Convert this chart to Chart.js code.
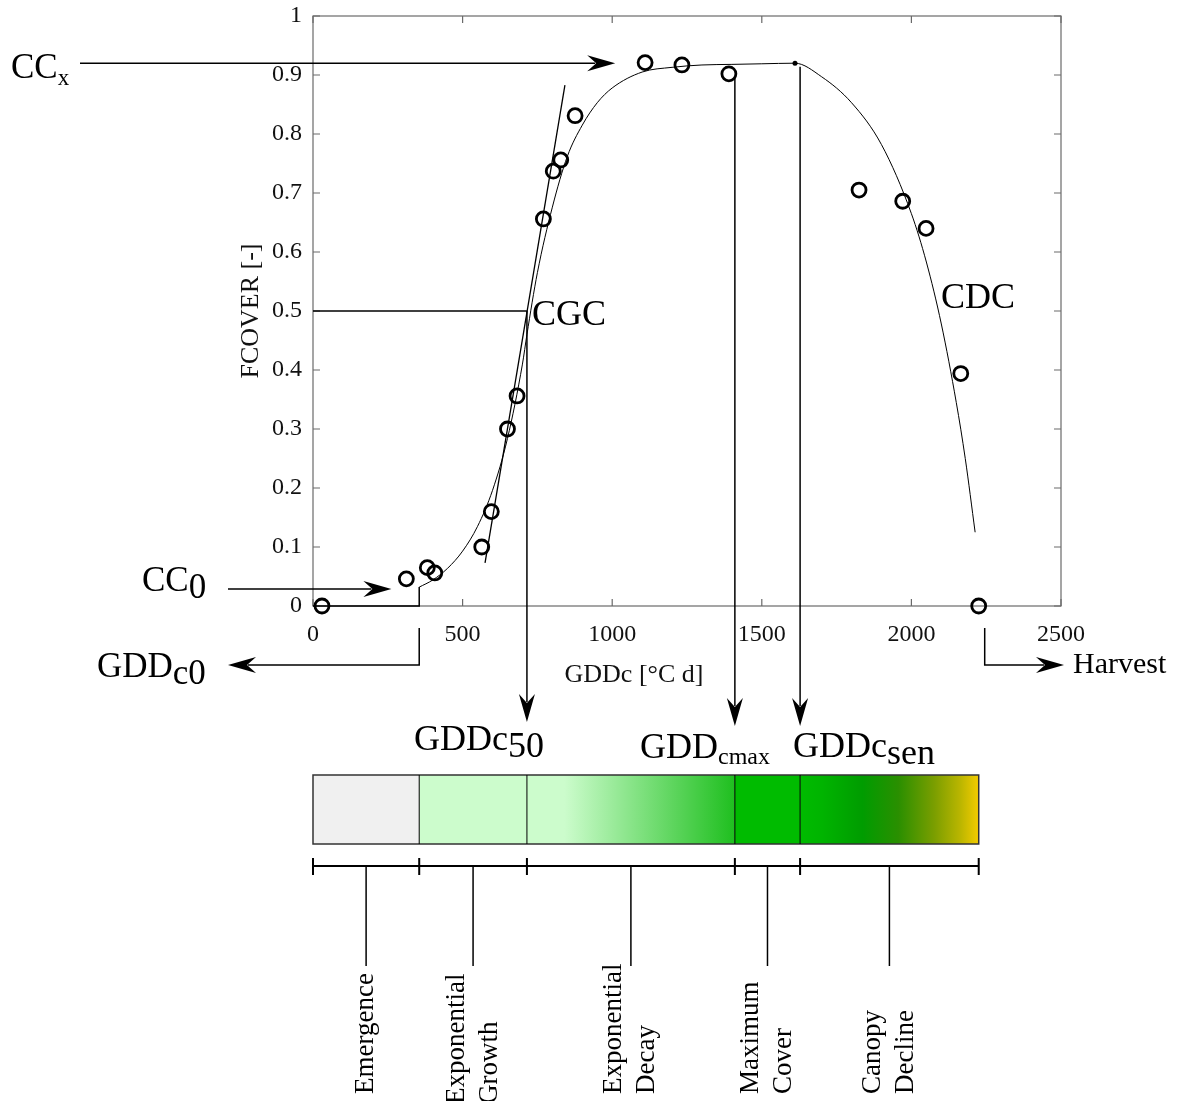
<!DOCTYPE html>
<html>
<head>
<meta charset="utf-8">
<title>FCOVER canopy development</title>
<script src="https://cdn.jsdelivr.net/npm/chart.js@4.4.1/dist/chart.umd.min.js"></script>
<style>
  html, body { margin: 0; padding: 0; background: #fff; }
  canvas { display: block; }
</style>
</head>
<body>
<canvas id="chart" width="1177" height="1101"></canvas>
<script>
// Observed FCOVER vs cumulated GDD
const obsGdd = [30, 312, 382, 407, 564, 596, 650, 682, 770, 803, 828, 876, 1110, 1233, 1390, 1825, 1971, 2049, 2165, 2225];
const obsFcover = [0.0, 0.046, 0.065, 0.056, 0.100, 0.160, 0.300, 0.356, 0.656, 0.737, 0.756, 0.831, 0.921, 0.917, 0.902, 0.705, 0.686, 0.640, 0.394, 0.0];

// Fitted canopy curve
const fitGdd = [355, 400, 450, 500, 550, 600, 650, 700, 715, 750, 800, 850, 900, 950, 1000, 1100, 1200, 1300, 1400, 1500, 1611,
                1700, 1800, 1900, 2000, 2050, 2100, 2150, 2180, 2213];
const fitFcover = [0.032, 0.044, 0.064, 0.093, 0.135, 0.196, 0.284, 0.41, 0.46, 0.565, 0.676, 0.762, 0.815, 0.853, 0.878, 0.905, 0.913, 0.917, 0.918, 0.919, 0.92,
                   0.897, 0.853, 0.782, 0.665, 0.583, 0.478, 0.345, 0.25, 0.125];

// Bare soil before emergence, and the CGC tangent
const baseGdd = [0, 355, 355];
const baseFcover = [0, 0, 0.032];
const cgcGdd = [575, 842];
const cgcFcover = [0.073, 0.883];

// Key values
const ccx = 0.92;
const cc0 = 0.029;
const gddSen = 1611;
const gdd50 = 715;
const gddMax = 1410;
const gddSenLine = 1628;
const harvestGdd = 2245;

// Phases along the GDD axis
const phaseBounds = [0, 355, 715, 1410, 1628, 2225];
const phaseNames = [['Emergence'], ['Exponential', 'Growth'], ['Exponential', 'Decay'], ['Maximum', 'Cover'], ['Canopy', 'Decline']];

const xTicks = [0, 500, 1000, 1500, 2000, 2500];
const xTickLabels = ['0', '500', '1000', '1500', '2000', '2500'];
const yTickLabels = ['0', '0.1', '0.2', '0.3', '0.4', '0.5', '0.6', '0.7', '0.8', '0.9', '1'];

const FONT = "'Liberation Serif', 'DejaVu Serif', serif";

function pts(xs, ys) {
    return xs.map((x, i) => ({ x: x, y: ys[i] }));
}

function arrowHead(c, x, y, dx, dy) {
    const L = 28, W = 8, I = 9;
    const nx = -dy, ny = dx;
    c.beginPath();
    c.moveTo(x, y);
    c.lineTo(x - dx * L + nx * W, y - dy * L + ny * W);
    c.lineTo(x - dx * (L - I), y - dy * (L - I));
    c.lineTo(x - dx * L - nx * W, y - dy * L - ny * W);
    c.closePath();
    c.fill();
}

// polyline with an arrow head on the last point
function arrow(c, path) {
    const n = path.length;
    const [x1, y1] = path[n - 2], [x2, y2] = path[n - 1];
    const len = Math.hypot(x2 - x1, y2 - y1);
    const dx = (x2 - x1) / len, dy = (y2 - y1) / len;
    c.beginPath();
    c.moveTo(path[0][0], path[0][1]);
    for (let i = 1; i < n - 1; i++) c.lineTo(path[i][0], path[i][1]);
    c.lineTo(x2 - dx * 20, y2 - dy * 20);
    c.stroke();
    arrowHead(c, x2, y2, dx, dy);
}

function subText(c, x, y, main, sub, size, subSize, shift) {
    c.font = size + 'px ' + FONT;
    c.fillText(main, x, y);
    const w = c.measureText(main).width;
    c.font = subSize + 'px ' + FONT;
    c.fillText(sub, x + w, y + shift);
}

// Frame with inward ticks on all four sides
const framePlugin = {
    id: 'frame',
    beforeDatasetsDraw(chart) {
        const c = chart.ctx, a = chart.chartArea;
        const xs = chart.scales.x, ys = chart.scales.y;
        c.save();
        c.strokeStyle = '#6a6a6a';
        c.lineWidth = 1.2;
        c.strokeRect(a.left, a.top, a.right - a.left, a.bottom - a.top);
        c.beginPath();
        xTicks.forEach(v => {
            const px = xs.getPixelForValue(v);
            c.moveTo(px, a.bottom); c.lineTo(px, a.bottom - 7);
            c.moveTo(px, a.top); c.lineTo(px, a.top + 7);
        });
        yTickLabels.forEach((t, i) => {
            const py = ys.getPixelForValue(i / 10);
            c.moveTo(a.left, py); c.lineTo(a.left + 7, py);
            c.moveTo(a.right, py); c.lineTo(a.right - 7, py);
        });
        c.stroke();
        // x axis title
        c.fillStyle = '#111';
        c.font = '26px ' + FONT;
        c.textAlign = 'center';
        c.textBaseline = 'alphabetic';
        c.fillText('GDDc [°C d]', 634, 682);
        c.restore();
    }
};

// Arrows, labels, phase bar
const annotPlugin = {
    id: 'annot',
    afterDatasetsDraw(chart) {
        const c = chart.ctx;
        const xs = chart.scales.x, ys = chart.scales.y;
        const X = v => xs.getPixelForValue(v);
        const Y = v => ys.getPixelForValue(v);
        c.save();
        c.strokeStyle = '#000';
        c.fillStyle = '#000';
        c.lineWidth = 1.5;
        c.textBaseline = 'alphabetic';
        c.textAlign = 'left';

        // CCx and CC0 arrows
        arrow(c, [[80, Y(ccx)], [X(1010), Y(ccx)]]);
        arrow(c, [[228, Y(cc0)], [X(262), Y(cc0)]]);

        // CGC half-cover lines
        c.beginPath();
        c.moveTo(X(0), Y(0.5));
        c.lineTo(X(gdd50), Y(0.5));
        c.stroke();
        arrow(c, [[X(gdd50), Y(0.5)], [X(gdd50), 722]]);
        arrow(c, [[X(gddMax), Y(0.896)], [X(gddMax), 726]]);
        arrow(c, [[X(gddSenLine), Y(0.914)], [X(gddSenLine), 726]]);

        // emergence and harvest
        arrow(c, [[X(355), 628], [X(355), 665], [228, 665]]);
        arrow(c, [[X(harvestGdd), 628], [X(harvestGdd), 665], [1064, 665]]);

        // text labels
        subText(c, 11, 78, 'CC', 'x', 35, 23, 7);
        subText(c, 142, 591, 'CC', '0', 35, 35, 7);
        subText(c, 97, 677, 'GDD', 'c0', 35, 35, 7);
        c.font = '36px ' + FONT;
        c.fillText('CGC', 532, 325);
        c.fillText('CDC', 941, 308);
        c.font = '30px ' + FONT;
        c.fillText('Harvest', 1073, 673);
        subText(c, 414, 750, 'GDDc', '50', 36, 36, 7);
        subText(c, 640, 758, 'GDD', 'cmax', 36, 24, 6);
        subText(c, 793, 757, 'GDDc', 'sen', 36, 36, 7);

        // phase colour bar
        const top = 775, bot = 844, h = bot - top;
        const bx = phaseBounds.map(X);
        c.fillStyle = '#f0f0f0';
        c.fillRect(bx[0], top, bx[1] - bx[0], h);
        c.fillStyle = '#ccfccc';
        c.fillRect(bx[1], top, bx[2] - bx[1], h);
        let g = c.createLinearGradient(bx[2], 0, bx[3], 0);
        g.addColorStop(0, '#ccfccc');
        g.addColorStop(0.18, '#ccfccc');
        g.addColorStop(1, '#1fbf1f');
        c.fillStyle = g;
        c.fillRect(bx[2], top, bx[3] - bx[2], h);
        c.fillStyle = '#00bb00';
        c.fillRect(bx[3], top, bx[4] - bx[3], h);
        g = c.createLinearGradient(bx[4], 0, bx[5], 0);
        g.addColorStop(0, '#00bb00');
        g.addColorStop(0.12, '#00b400');
        g.addColorStop(0.35, '#009c00');
        g.addColorStop(0.55, '#2a8f00');
        g.addColorStop(0.75, '#7a9e00');
        g.addColorStop(0.9, '#bcb600');
        g.addColorStop(1, '#f4cc00');
        c.fillStyle = g;
        c.fillRect(bx[4], top, bx[5] - bx[4], h);

        c.strokeStyle = '#333';
        c.lineWidth = 1.5;
        c.strokeRect(bx[0], top, bx[5] - bx[0], h);
        c.lineWidth = 1;
        c.strokeStyle = '#000';
        c.beginPath();
        for (let i = 1; i < bx.length - 1; i++) {
            c.moveTo(bx[i], top); c.lineTo(bx[i], bot);
        }
        c.stroke();

        // phase ruler and rotated labels
        const ry = 866;
        c.lineWidth = 2;
        c.beginPath();
        c.moveTo(bx[0], ry); c.lineTo(bx[5], ry);
        bx.forEach(px => { c.moveTo(px, ry - 8); c.lineTo(px, ry + 9); });
        c.stroke();
        c.lineWidth = 1.5;
        c.fillStyle = '#000';
        c.font = '27px ' + FONT;
        c.textAlign = 'left';
        c.textBaseline = 'middle';
        phaseNames.forEach((lines, i) => {
            const mx = (bx[i] + bx[i + 1]) / 2;
            c.beginPath();
            c.moveTo(mx, ry); c.lineTo(mx, 966);
            c.stroke();
            const startY = i === 1 ? 1104 : 1094;
            lines.forEach((t, j) => {
                const lx = mx + (j - (lines.length - 1) / 2) * 33;
                c.save();
                c.translate(lx, startY);
                c.rotate(-Math.PI / 2);
                c.fillText(t, 0, 0);
                c.restore();
            });
        });
        c.restore();
    }
};

const ctx = document.getElementById('chart');
const chart = new Chart(ctx, {
    type: 'scatter',
    data: {
        datasets: [
            {
                label: 'Observed',
                data: pts(obsGdd, obsFcover),
                pointStyle: 'circle',
                pointRadius: 7,
                pointBorderWidth: 2.8,
                pointBorderColor: '#000',
                pointBackgroundColor: 'rgba(0,0,0,0)',
                showLine: false,
                clip: false
            },
            {
                label: 'Senescence start',
                data: [{ x: gddSen, y: ccx }],
                pointRadius: 2.5,
                pointBackgroundColor: '#000',
                pointBorderWidth: 0,
                showLine: false,
                clip: false
            },
            {
                label: 'Fit',
                data: pts(fitGdd, fitFcover),
                showLine: true,
                borderColor: '#000',
                borderWidth: 1,
                pointRadius: 0,
                cubicInterpolationMode: 'monotone',
                clip: false
            },
            {
                label: 'Bare soil',
                data: pts(baseGdd, baseFcover),
                showLine: true,
                borderColor: '#000',
                borderWidth: 1.5,
                pointRadius: 0,
                tension: 0,
                clip: false
            },
            {
                label: 'CGC',
                data: pts(cgcGdd, cgcFcover),
                showLine: true,
                borderColor: '#000',
                borderWidth: 1.3,
                pointRadius: 0,
                tension: 0
            }
        ]
    },
    options: {
        responsive: false,
        animation: false,
        layout: { padding: { left: 236, top: 16, right: 116, bottom: 413 } },
        plugins: {
            legend: { display: false },
            tooltip: { enabled: false }
        },
        scales: {
            x: {
                type: 'linear',
                min: 0,
                max: 2500,
                afterBuildTicks(s) { s.ticks = xTicks.map(v => ({ value: v })); },
                ticks: {
                    color: '#111',
                    font: { family: FONT, size: 24 },
                    padding: 14,
                    maxRotation: 0,
                    autoSkip: false,
                    callback: (v, i) => xTickLabels[i]
                },
                grid: { display: false, drawTicks: false, tickLength: 0 },
                border: { display: false },
                afterFit(s) {
                    s.height = 82;
                    s.paddingLeft = 0;
                    s.paddingRight = 0;
                }
            },
            y: {
                type: 'linear',
                min: 0,
                max: 1,
                afterBuildTicks(s) { s.ticks = yTickLabels.map((t, i) => ({ value: i / 10 })); },
                ticks: {
                    color: '#111',
                    font: { family: FONT, size: 24 },
                    padding: 11,
                    autoSkip: false,
                    callback: (v, i) => yTickLabels[i]
                },
                grid: { display: false, drawTicks: false, tickLength: 0 },
                border: { display: false },
                title: {
                    display: true,
                    text: 'FCOVER [-]',
                    color: '#111',
                    font: { family: FONT, size: 26 },
                    padding: 0
                },
                afterFit(s) {
                    s.width = 77;
                    s.paddingTop = 0;
                    s.paddingBottom = 0;
                }
            }
        }
    },
    plugins: [framePlugin, annotPlugin]
});
</script>
</body>
</html>
